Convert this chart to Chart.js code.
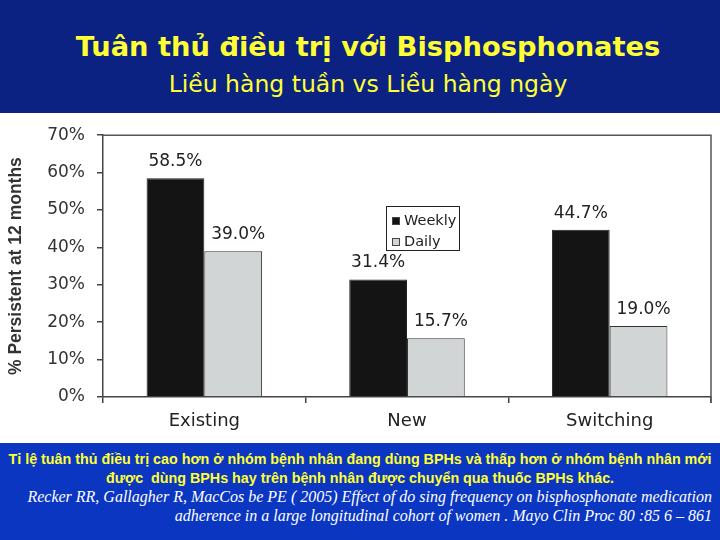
<!DOCTYPE html>
<html>
<head>
<meta charset="utf-8">
<script src="https://cdn.jsdelivr.net/npm/chart.js@4.4.0/dist/chart.umd.min.js"></script>
<style>
  html, body { margin: 0; padding: 0; }
  body { width: 720px; height: 540px; overflow: hidden; background: #fff; font-family: "Liberation Sans", Arial, sans-serif; }
  #top { position: absolute; left: 0; top: 0; width: 720px; height: 113px; background: #0b2282; color: #ffff33; text-align: center; }
  #title { position: absolute; left: 8px; width: 720px; top: 31px; font-family: "DejaVu Sans", sans-serif; font-size: 27.3px; font-weight: bold; white-space: nowrap; }
  #subtitle { position: absolute; left: 8px; width: 720px; top: 70px; font-family: "DejaVu Sans", sans-serif; font-size: 23.5px; white-space: nowrap; }
  #chartBox { position: absolute; left: 0; top: 113px; width: 720px; height: 330px; }
  #bottom { position: absolute; left: 0; top: 443px; width: 720px; height: 97px; background: #0a36c2; }
  .note { position: absolute; left: 0; width: 720px; text-align: center; color: #ffff33; font-weight: bold; font-size: 14.3px; white-space: nowrap; }
  .ref { position: absolute; right: 8px; color: #fff; font-style: italic; font-family: "Liberation Serif", "Times New Roman", serif; font-size: 16px; white-space: nowrap; }
</style>
</head>
<body>
<div id="top">
  <div id="title">Tuân thủ điều trị với Bisphosphonates</div>
  <div id="subtitle">Liều hàng tuần vs Liều hàng ngày</div>
</div>
<div id="chartBox"><canvas id="chart" width="720" height="330"></canvas></div>
<div id="bottom">
  <div class="note" style="top:8px;">Tỉ lệ tuân thủ điều trị cao hơn ở nhóm bệnh nhân đang dùng BPHs và thấp hơn ở nhóm bệnh nhân mới</div>
  <div class="note" style="top:27px;">được&nbsp; dùng BPHs hay trên bệnh nhân được chuyển qua thuốc BPHs khác.</div>
  <div class="ref" style="top:45px;">Recker RR, Gallagher R, MacCos be PE ( 2005) Effect of do sing frequency on bisphosphonate medication</div>
  <div class="ref" style="top:64px;">adherence in a large longitudinal cohort of women . Mayo Clin Proc 80 :85 6 – 861</div>
</div>
<script>
// Chart data
const categories = ['Existing', 'New', 'Switching'];
const weeklyValues = [58.5, 31.4, 44.7];
const dailyValues = [39.0, 15.7, 19.0];
const seriesNames = ['Weekly', 'Daily'];
const yTicks = [0, 10, 20, 30, 40, 50, 60, 70];

const FONT = '"DejaVu Sans", "Liberation Sans", Arial, sans-serif';

// Value labels above each bar
const barLabels = {
    id: 'barLabels',
    afterDatasetsDraw(chart) {
        const ctx = chart.ctx;
        ctx.save();
        ctx.font = '17px ' + FONT;
        ctx.fillStyle = '#222';
        ctx.textAlign = 'center';
        ctx.textBaseline = 'bottom';
        chart.data.datasets.forEach((ds, i) => {
            const shift = i === 1 ? 5 : 0;
            chart.getDatasetMeta(i).data.forEach((bar, j) => {
                ctx.fillText(ds.data[j].toFixed(1) + '%', bar.x + shift, bar.y - 8);
            });
        });
        ctx.restore();
    }
};

// Top and right frame lines plus the boxed legend inside the plot
const frameAndLegend = {
    id: 'frameAndLegend',
    afterDraw(chart) {
        const ctx = chart.ctx;
        const a = chart.chartArea;
        ctx.save();
        ctx.strokeStyle = '#555';
        ctx.lineWidth = 1.5;
        ctx.beginPath();
        ctx.moveTo(a.left, a.top);
        ctx.lineTo(a.right, a.top);
        ctx.lineTo(a.right, a.bottom + 6);
        ctx.stroke();

        const lx = 386, ly = 93, lw = 73, lh = 44;
        ctx.fillStyle = '#fff';
        ctx.fillRect(lx, ly, lw, lh);
        ctx.strokeStyle = '#222';
        ctx.lineWidth = 1;
        ctx.strokeRect(lx + 0.5, ly + 0.5, lw, lh);
        ctx.font = '14.5px ' + FONT;
        ctx.textBaseline = 'middle';
        ctx.textAlign = 'left';
        chart.data.datasets.forEach((ds, i) => {
            const cy = ly + 15 + i * 21;
            ctx.fillStyle = ds.backgroundColor;
            ctx.fillRect(lx + 6, cy - 4, 8, 8);
            ctx.strokeStyle = '#444';
            ctx.strokeRect(lx + 6.5, cy - 3.5, 7, 7);
            ctx.fillStyle = '#222';
            ctx.fillText(ds.label, lx + 18, cy);
        });
        ctx.restore();
    }
};

new Chart(document.getElementById('chart').getContext('2d'), {
    type: 'bar',
    data: {
        labels: categories,
        datasets: [{
            label: seriesNames[0],
            data: weeklyValues,
            backgroundColor: '#141414',
            borderColor: '#222',
            borderWidth: 1,
            categoryPercentage: 0.57,
            barPercentage: 1.0
        }, {
            label: seriesNames[1],
            data: dailyValues,
            backgroundColor: '#d2d5d5',
            borderColor: '#333',
            borderWidth: 1,
            categoryPercentage: 0.57,
            barPercentage: 1.0
        }]
    },
    options: {
        responsive: false,
        animation: false,
        layout: { padding: { top: 19, right: 9, left: 0, bottom: 0 } },
        plugins: { legend: { display: false }, tooltip: { enabled: false } },
        scales: {
            x: {
                afterFit(scale) { scale.height = 46; },
                grid: { offset: true, drawOnChartArea: false, drawTicks: true, tickLength: 6, color: '#444', lineWidth: 1.5 },
                border: { display: true, color: '#444', width: 1.5 },
                ticks: { color: '#222', font: { size: 18, family: FONT }, padding: 8 }
            },
            y: {
                min: 0,
                max: 70,
                afterFit(scale) { scale.width = 103; },
                afterBuildTicks(scale) { scale.ticks = yTicks.map(v => ({ value: v })); },
                grid: { drawOnChartArea: false, drawTicks: true, tickLength: 6, color: '#444', lineWidth: 1.5 },
                border: { display: true, color: '#444', width: 1.5 },
                ticks: { color: '#333', font: { size: 17, family: FONT }, padding: 12, callback: v => v + '%' },
                title: { display: true, text: '% Persistent at 12 months', color: '#333', font: { size: 17.5, weight: 'bold', family: '"Liberation Sans", Arial, sans-serif' }, padding: { top: 6, bottom: 0 } }
            }
        }
    },
    plugins: [barLabels, frameAndLegend]
});
</script>
</body>
</html>
